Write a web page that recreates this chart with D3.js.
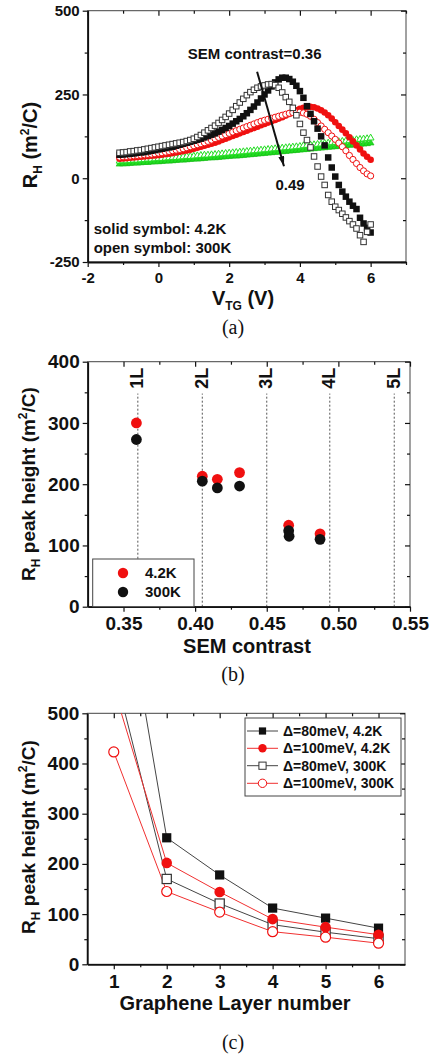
<!DOCTYPE html>
<html><head><meta charset="utf-8">
<script src="https://cdn.jsdelivr.net/npm/d3@7"></script>
<style>body{margin:0;background:#fff}svg{display:block}</style>
</head><body>
<svg id="chart" width="434" height="1059"></svg>
<script>
// ================= DATA =================
// Panel (a): R_H vs V_TG
const vtg = [-1.1,-1.0,-0.9,-0.8,-0.7,-0.6,-0.5,-0.4,-0.3,-0.2,
  -0.1,0.0,0.1,0.2,0.3,0.4,0.5,0.6,0.7,0.8,
  0.9,1.0,1.1,1.2,1.3,1.4,1.5,1.6,1.7,1.8,
  1.9,2.0,2.1,2.2,2.3,2.4,2.5,2.6,2.7,2.8,
  2.9,3.0,3.1,3.2,3.3,3.4,3.5,3.6,3.7,3.8,
  3.9,4.0,4.1,4.2,4.3,4.4,4.5,4.6,4.7,4.8,
  4.9,5.0,5.1,5.2,5.3,5.4,5.5,5.6,5.7,5.8,
  5.9,6.0];
const rhBlack42 = [70,71,72,73,74,76,77,78,80,82,
  84,86,88,90,92,94,97,100,103,106,
  109,112,115,118,122,126,130,134,139,144,
  150,156,163,170,177,185,194,204,214,226,
  238,250,262,274,286,295,300,300,296,288,
  276,260,240,215,192,170,148,125,98,62,
  32,5,-20,-40,-55,-70,-82,-92,-118,-135,
  -148,-162];
const rhBlack300 = [76,77,78,80,81,83,84,86,88,90,
  92,94,96,98,100,102,104,106,108,111,
  114,118,123,129,136,143,150,157,165,174,
  183,193,204,215,226,237,248,257,264,270,
  274,277,280,281,278,270,256,242,228,210,
  188,162,136,114,92,65,35,5,-20,-50,
  -70,-85,-95,-106,-117,-128,-138,-150,-170,-190,
  -160,-138];
const rhRed42 = [58,59,60,61,62,63,64,65,66,67,
  68,69,70,72,73,75,77,79,81,83,
  85,88,91,94,97,100,103,106,110,114,
  118,122,126,130,134,138,142,146,150,154,
  158,162,166,170,174,178,182,187,192,198,
  203,207,210,212,213,212,208,203,196,188,
  178,167,156,145,134,122,110,98,86,74,
  64,55];
const rhRed300 = [63,64,65,66,67,68,69,70,71,72,
  73,75,76,78,80,82,84,86,88,91,
  94,97,100,103,106,110,114,118,122,126,
  130,134,138,142,146,150,154,158,162,166,
  170,173,176,179,182,185,188,191,194,196,
  197,197,195,191,185,176,166,156,146,136,
  126,116,105,94,82,68,56,44,32,22,
  13,7];
const rhGreen42 = [42,43,43,44,45,45,46,47,47,48,
  49,49,50,51,51,52,53,54,54,55,
  56,57,57,58,59,60,61,61,62,63,
  64,65,66,66,67,68,69,70,71,72,
  73,74,75,76,77,78,79,80,81,82,
  83,84,85,86,87,88,89,90,91,92,
  93,94,95,96,97,98,99,100,101,102,
  103,105];
const rhGreen300 = [51,52,52,53,54,54,55,56,57,57,
  58,59,59,60,61,62,62,63,64,65,
  65,66,67,68,69,69,70,71,72,73,
  74,75,76,77,78,79,80,81,82,83,
  84,85,86,87,88,89,90,91,92,93,
  94,95,97,98,99,100,101,102,104,105,
  106,107,109,110,111,112,113,115,116,117,
  118,120];
const aXTicks = [-2,0,2,4,6];
const aXMinor = [-1,1,3,5,7];
const aYTicks = [-250,0,250,500];
const aYMinor = [-125,125,375];

// Panel (b): peak height vs SEM contrast
const contrast42 = [0.359,0.405,0.4155,0.431,0.4653,0.4872];
const peak42 = [300,213,208,219,133,119];
const contrast300 = [0.359,0.405,0.4155,0.431,0.4653,0.4656,0.4872];
const peak300 = [273,205,194,197,124,115,110];
const layerContrast = [0.36,0.405,0.45,0.494,0.539];
const layerNames = ["1L","2L","3L","4L","5L"];
const bXTicks = [0.35,0.40,0.45,0.50,0.55];
const bXMinor = [0.375,0.425,0.475,0.525];
const bYTicks = [0,100,200,300,400];
const bYMinor = [50,150,250,350];

// Panel (c): peak height vs layer number
const layers = [1,2,3,4,5,6];
const gap80K42 = [870,252,178,112,92,72];
const gap100K42 = [550,202,144,90,74,59];
const gap80K300 = [590,170,121,79,64,51];
const gap100K300 = [423,145,104,65,54,42];
const cXTicks = [1,2,3,4,5,6];
const cXMinor = [1.5,2.5,3.5,4.5,5.5];
const cYTicks = [0,100,200,300,400,500];
const cYMinor = [50,150,250,350,450];

// ================= DRAW =================
const FONT = "'Liberation Sans', Arial, Helvetica, sans-serif";
const SERIF = "'Liberation Serif', 'Times New Roman', serif";
const RED = "#f01010", GREEN = "#22dd22", BLK = "#111";
const svg = d3.select("#chart");
svg.append("rect").attr("width",434).attr("height",1059).attr("fill","#fff");

function axes(g, x, y, c) {
  const [x0, x1] = x.range();
  const [yb, yt] = y.range();
  const fmtX = c.xFmt || (d => String(d));
  const fmtY = c.yFmt || (d => String(d));
  const font = s => s.selectAll("text").attr("font-family", FONT).attr("font-weight","bold")
      .attr("font-size", c.fs).attr("fill", BLK);
  const dom = s => s.select(".domain").attr("stroke", BLK).attr("stroke-width", 1.8);
  const nodom = s => s.select(".domain").remove();
  g.append("rect").attr("x",x0).attr("y",yt).attr("width",x1-x0).attr("height",yb-yt)
    .attr("fill","none").attr("stroke","#444").attr("stroke-width",1);
  // bottom
  g.append("g").attr("transform",`translate(0,${yb})`)
    .call(d3.axisBottom(x).tickValues(c.xMajor).tickSize(c.maj).tickSizeOuter(0).tickPadding(c.xPad).tickFormat(fmtX))
    .call(font).call(dom);
  g.append("g").attr("transform",`translate(0,${yb})`)
    .call(d3.axisBottom(x).tickValues(c.xMinor).tickSize(c.mn).tickFormat("")).call(nodom);
  // top (inward)
  g.append("g").attr("transform",`translate(0,${yt})`)
    .call(d3.axisTop(x).tickValues(c.xMajor).tickSize(-c.maj).tickFormat("")).call(nodom);
  g.append("g").attr("transform",`translate(0,${yt})`)
    .call(d3.axisTop(x).tickValues(c.xMinor).tickSize(-c.mn).tickFormat("")).call(nodom);
  // left
  g.append("g").attr("transform",`translate(${x0},0)`)
    .call(d3.axisLeft(y).tickValues(c.yMajor).tickSize(c.maj).tickSizeOuter(0).tickPadding(c.yPad).tickFormat(fmtY))
    .call(font).call(dom);
  g.append("g").attr("transform",`translate(${x0},0)`)
    .call(d3.axisLeft(y).tickValues(c.yMinor).tickSize(c.mn).tickFormat("")).call(nodom);
  // right (inward)
  g.append("g").attr("transform",`translate(${x1},0)`)
    .call(d3.axisRight(y).tickValues(c.yMajor).tickSize(-c.maj).tickFormat("")).call(nodom);
  g.append("g").attr("transform",`translate(${x1},0)`)
    .call(d3.axisRight(y).tickValues(c.yMinor).tickSize(-c.mn).tickFormat("")).call(nodom);
  g.selectAll(".tick line").attr("stroke", BLK).attr("stroke-width", 1.2);
}

function yTitle(g, x, y, fs, parts) {
  const t = g.append("text").attr("transform",`translate(${x},${y}) rotate(-90)`)
    .attr("text-anchor","middle").attr("font-family",FONT).attr("font-weight","bold")
    .attr("font-size",fs).attr("fill",BLK);
  parts.forEach(p => t.append("tspan").text(p[0]).attr("font-size",p[1]||fs).attr("dy",p[2]||0));
}
function caption(txt, x, y) {
  svg.append("text").attr("x",x).attr("y",y).attr("text-anchor","middle")
    .attr("font-family",SERIF).attr("font-size",20).attr("fill",BLK).text(txt);
}

// ---------- Panel (a) ----------
const ga = svg.append("g");
const xa = d3.scaleLinear().domain([-2,7]).range([87.7,406]);
const ya = d3.scaleLinear().domain([-250,500]).range([262,10.7]);
axes(ga, xa, ya, {xMajor:aXTicks, xMinor:aXMinor, yMajor:aYTicks, yMinor:aYMinor, fs:15, maj:5, mn:3, xPad:5, yPad:3});

const ptsA = ys => vtg.map((v,i) => [v, ys[i]]);
const tri = d3.symbol(d3.symbolTriangle, 20);
ga.append("g").selectAll("path").data(ptsA(rhGreen42)).join("path")
  .attr("d", tri).attr("transform", d => `translate(${xa(d[0])},${ya(d[1])})`)
  .attr("fill", GREEN).attr("stroke", "#11bb11").attr("stroke-width",0.6);
ga.append("g").selectAll("path").data(ptsA(rhGreen300)).join("path")
  .attr("d", tri).attr("transform", d => `translate(${xa(d[0])},${ya(d[1])})`)
  .attr("fill", "#fff").attr("stroke", GREEN).attr("stroke-width",1);
ga.append("g").selectAll("circle").data(ptsA(rhRed42)).join("circle")
  .attr("cx", d => xa(d[0])).attr("cy", d => ya(d[1])).attr("r", 3.3).attr("fill", RED);
ga.append("g").selectAll("circle").data(ptsA(rhRed300)).join("circle")
  .attr("cx", d => xa(d[0])).attr("cy", d => ya(d[1])).attr("r", 3.1)
  .attr("fill", "#fff").attr("stroke", RED).attr("stroke-width",1);
const sA = 6.5;
ga.append("g").selectAll("rect").data(ptsA(rhBlack42)).join("rect")
  .attr("x", d => xa(d[0])-sA/2).attr("y", d => ya(d[1])-sA/2).attr("width",sA).attr("height",sA).attr("fill", BLK);
ga.append("g").selectAll("rect").data(ptsA(rhBlack300)).join("rect")
  .attr("x", d => xa(d[0])-sA/2+0.5).attr("y", d => ya(d[1])-sA/2+0.5).attr("width",sA-1).attr("height",sA-1)
  .attr("fill", "#fff").attr("stroke", "#333").attr("stroke-width",1);

// arrow annotation
const defs = svg.append("defs");
defs.append("marker").attr("id","ah").attr("viewBox","0 0 10 10").attr("refX",10).attr("refY",5)
  .attr("markerUnits","userSpaceOnUse").attr("markerWidth",10).attr("markerHeight",6)
  .attr("preserveAspectRatio","none").attr("orient","auto")
  .append("path").attr("d","M0,0L10,5L0,10z").attr("fill",BLK);
const arrowFrom = [2.79, 318], arrowTo = [3.55, 36];
ga.append("line").attr("x1",xa(arrowFrom[0])).attr("y1",ya(arrowFrom[1]))
  .attr("x2",xa(arrowTo[0])).attr("y2",ya(arrowTo[1]))
  .attr("stroke",BLK).attr("stroke-width",2).attr("marker-end","url(#ah)");
const aText = (t, v, r, anchor) => ga.append("text").attr("x",xa(v)).attr("y",ya(r)).attr("text-anchor",anchor)
  .attr("font-family",FONT).attr("font-weight","bold").attr("font-size",15).attr("fill",BLK).text(t);
aText("SEM contrast=0.36", 2.72, 355, "middle");
aText("0.49", 3.31, -35, "start");
aText("solid symbol: 4.2K", -1.83, -167, "start");
aText("open symbol: 300K", -1.83, -222, "start");
// axis titles (a)
{
  const t = ga.append("text").attr("x",243).attr("y",305).attr("text-anchor","middle")
    .attr("font-family",FONT).attr("font-weight","bold").attr("font-size",20).attr("fill",BLK);
  t.append("tspan").text("V");
  t.append("tspan").text("TG").attr("font-size",12).attr("dy",5);
  t.append("tspan").text(" (V)").attr("dy",-5);
}
yTitle(ga, 37, 145, 20, [["R"],["H",12,5],[" (m",20,-5],["2",12,-8],["/C)",20,8]]);
caption("(a)", 233, 334);

// ---------- Panel (b) ----------
const gb = svg.append("g");
const xb = d3.scaleLinear().domain([0.325,0.55]).range([87.7,410]);
const yb = d3.scaleLinear().domain([0,400]).range([606.7,361.7]);
gb.append("g").selectAll("line").data(layerContrast).join("line")
  .attr("x1", d => xb(d)).attr("x2", d => xb(d)).attr("y1", yb(0)).attr("y2", yb(348))
  .attr("stroke","#555").attr("stroke-width",1).attr("stroke-dasharray","2,2");
gb.append("g").selectAll("text").data(layerContrast).join("text")
  .attr("transform", d => `translate(${xb(d)-1},${yb(373)}) rotate(-90)`)
  .attr("dy","0.36em").attr("text-anchor","middle")
  .attr("font-family",FONT).attr("font-weight","bold").attr("font-size",18).attr("fill",BLK)
  .text((d,i) => layerNames[i]);
axes(gb, xb, yb, {xMajor:bXTicks, xMinor:bXMinor, yMajor:bYTicks, yMinor:bYMinor, fs:19, maj:5, mn:3, xPad:5, yPad:3, xFmt:d3.format(".2f")});
gb.append("g").selectAll("circle").data(contrast42.map((c,i)=>[c,peak42[i]])).join("circle")
  .attr("cx", d => xb(d[0])).attr("cy", d => yb(d[1])).attr("r",5.4).attr("fill",RED);
gb.append("g").selectAll("circle").data(contrast300.map((c,i)=>[c,peak300[i]])).join("circle")
  .attr("cx", d => xb(d[0])).attr("cy", d => yb(d[1])).attr("r",5.4).attr("fill",BLK);
// legend (b)
gb.append("rect").attr("x",92.7).attr("y",559).attr("width",101.3).attr("height",47.7)
  .attr("fill","#fff").attr("stroke","#444").attr("stroke-width",1);
[["4.2K",RED,573],["300K",BLK,592]].forEach(([t,col,yy]) => {
  gb.append("circle").attr("cx",123).attr("cy",yy).attr("r",5.2).attr("fill",col);
  gb.append("text").attr("x",145).attr("y",yy).attr("dy","0.36em").attr("font-family",FONT)
    .attr("font-weight","bold").attr("font-size",15).attr("fill",BLK).text(t);
});
gb.append("text").attr("x",247).attr("y",653).attr("text-anchor","middle").attr("font-family",FONT)
  .attr("font-weight","bold").attr("font-size",20).attr("fill",BLK).text("SEM contrast");
yTitle(gb, 35, 484, 19, [["R"],["H",12,5],[" peak height (m",19,-5],["2",12,-8],["/C)",19,8]]);
caption("(b)", 233, 681);

// ---------- Panel (c) ----------
const gc = svg.append("g");
const xc = d3.scaleLinear().domain([0.5,6.5]).range([87.3,405]);
const yc = d3.scaleLinear().domain([0,500]).range([964.3,713.3]);
defs.append("clipPath").attr("id","clipc").append("rect")
  .attr("x",87.3).attr("y",713.3).attr("width",405-87.3).attr("height",964.3-713.3);
axes(gc, xc, yc, {xMajor:cXTicks, xMinor:cXMinor, yMajor:cYTicks, yMinor:cYMinor, fs:19, maj:5, mn:3, xPad:5, yPad:3});
const plotC = gc.append("g").attr("clip-path","url(#clipc)");
const lineC = d3.line().x(d => xc(d[0])).y(d => yc(d[1]));
const seriesC = [
  {ys:gap80K42, col:"#333", shape:"sq", fill:BLK},
  {ys:gap80K300, col:"#333", shape:"sq", fill:"#fff"},
  {ys:gap100K42, col:RED, shape:"ci", fill:RED},
  {ys:gap100K300, col:RED, shape:"ci", fill:"#fff"}
];
seriesC.forEach(s => {
  const pts = layers.map((l,i) => [l, s.ys[i]]);
  plotC.append("path").datum(pts).attr("d", lineC).attr("fill","none")
    .attr("stroke", s.col === RED ? "#f03030" : "#444").attr("stroke-width",1);
});
seriesC.forEach(s => {
  const pts = layers.map((l,i) => [l, s.ys[i]]);
  if (s.shape === "sq") {
    plotC.append("g").selectAll("rect").data(pts).join("rect")
      .attr("x", d => xc(d[0])-4.6).attr("y", d => yc(d[1])-4.6).attr("width",9.2).attr("height",9.2)
      .attr("fill", s.fill).attr("stroke", s.fill === BLK ? "none" : "#333").attr("stroke-width",1.2);
  } else {
    plotC.append("g").selectAll("circle").data(pts).join("circle")
      .attr("cx", d => xc(d[0])).attr("cy", d => yc(d[1])).attr("r", s.fill === RED ? 5.3 : 5)
      .attr("fill", s.fill).attr("stroke", s.fill === RED ? "none" : RED).attr("stroke-width",1.2);
  }
});
// legend (c)
gc.append("rect").attr("x",245).attr("y",718).attr("width",156).attr("height",78)
  .attr("fill","#fff").attr("stroke","#444").attr("stroke-width",1);
const legC = [["Δ=80meV, 4.2K",0,731],["Δ=100meV, 4.2K",2,748.3],["Δ=80meV, 300K",1,765.7],["Δ=100meV, 300K",3,783.3]];
legC.forEach(([t, k, yy]) => {
  const s = seriesC[k];
  gc.append("line").attr("x1",247).attr("x2",278).attr("y1",yy).attr("y2",yy)
    .attr("stroke", s.col === RED ? "#f03030" : "#444").attr("stroke-width",1);
  if (s.shape === "sq") {
    gc.append("rect").attr("x",262.5-3.6).attr("y",yy-3.6).attr("width",7.2).attr("height",7.2)
      .attr("fill", s.fill).attr("stroke", s.fill === BLK ? "none" : "#333").attr("stroke-width",1);
  } else {
    gc.append("circle").attr("cx",262.5).attr("cy",yy).attr("r",4.2)
      .attr("fill", s.fill).attr("stroke", s.fill === RED ? "none" : RED).attr("stroke-width",1);
  }
  gc.append("text").attr("x",283).attr("y",yy).attr("dy","0.36em").attr("font-family",FONT)
    .attr("font-weight","bold").attr("font-size",14).attr("fill",BLK).text(t);
});
gc.append("text").attr("x",235).attr("y",1010).attr("text-anchor","middle").attr("font-family",FONT)
  .attr("font-weight","bold").attr("font-size",20).attr("fill",BLK).text("Graphene Layer number");
yTitle(gc, 35, 837, 19, [["R"],["H",12,5],[" peak height (m",19,-5],["2",12,-8],["/C)",19,8]]);
caption("(c)", 233, 1049);
</script>
</body></html>
